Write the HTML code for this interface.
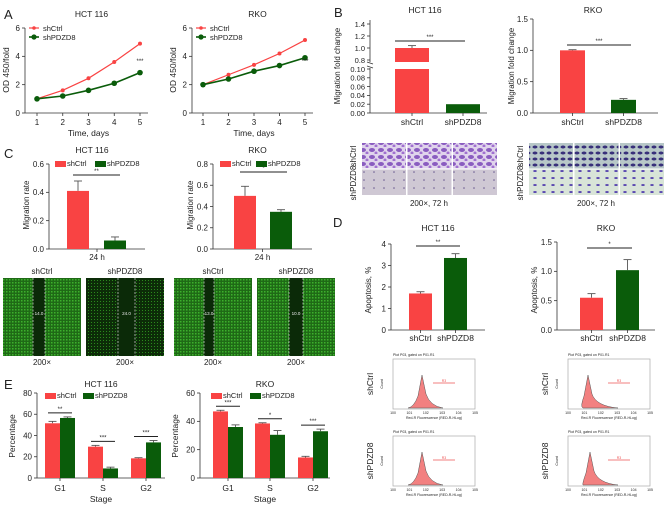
<!DOCTYPE html>
<html><head><meta charset="utf-8">
<style>
html,body{margin:0;padding:0;background:#fff;}
svg{display:block;font-family:"Liberation Sans",Arial,sans-serif;}
</style></head>
<body>
<svg id="fig" width="670" height="506" viewBox="0 0 670 506">
<defs>
<pattern id="purpleA" width="9" height="7" patternUnits="userSpaceOnUse"><rect width="9" height="7" fill="#e0d4ec"/><ellipse cx="3" cy="3" rx="3" ry="2" fill="#8a5cc0"/><circle cx="7" cy="6" r="1.5" fill="#a070d0"/></pattern>
<pattern id="purpleB" width="10" height="8" patternUnits="userSpaceOnUse"><rect width="10" height="8" fill="#cfc8d4"/><circle cx="4" cy="4" r="0.8" fill="#6a5a90"/></pattern>
<pattern id="blueA" width="7" height="6" patternUnits="userSpaceOnUse"><rect width="7" height="6" fill="#b8c8c8"/><ellipse cx="3" cy="3" rx="2.5" ry="1.5" fill="#38307a"/></pattern>
<pattern id="blueB" width="9" height="7" patternUnits="userSpaceOnUse"><rect width="9" height="7" fill="#d8e4d8"/><ellipse cx="4" cy="3" rx="1.8" ry="1" fill="#5a48b0"/></pattern>
<pattern id="greenA" width="3" height="3" patternUnits="userSpaceOnUse"><rect width="3" height="3" fill="#1f6a16"/><rect x="0" y="0" width="1.5" height="1.5" fill="#3cb02c"/></pattern>
<pattern id="greenB" width="3" height="3" patternUnits="userSpaceOnUse"><rect width="3" height="3" fill="#0c2c08"/><rect x="1" y="1" width="1" height="1" fill="#2a8a1c"/></pattern>
</defs>
</svg>
<script>
// ---------- DATA ----------
const days = [1,2,3,4,5];
const aHctCtrl = [1.0,1.6,2.45,3.6,4.9];
const aHctSh = [1.0,1.2,1.6,2.1,2.85];
const aRkoCtrl = [2.0,2.7,3.4,4.2,5.15];
const aRkoSh = [2.0,2.4,2.95,3.35,3.9];
const aTicks = [0,2,4,6];
const bGroups = ["shCtrl","shPDZD8"];
const bHctVals = [1.0,0.02];
const bHctErr = [0.04,0.0];
const bRkoVals = [1.0,0.21];
const bRkoErr = [0.01,0.02];
const bHctTopTicks = [0.8,1.0,1.2,1.4];
const bHctBotTicks = [0.00,0.02,0.04,0.06,0.08,0.10];
const bRkoTicks = [0.0,0.5,1.0,1.5];
const cHctVals = [0.41,0.06];
const cHctErr = [0.07,0.025];
const cRkoVals = [0.50,0.35];
const cRkoErr = [0.09,0.02];
const cHctTicks = [0.0,0.2,0.4,0.6];
const cRkoTicks = [0.0,0.2,0.4,0.6,0.8];
const dHctVals = [1.7,3.35];
const dHctErr = [0.08,0.2];
const dRkoVals = [0.55,1.02];
const dRkoErr = [0.07,0.18];
const dHctTicks = [0,1,2,3,4];
const dRkoTicks = [0.0,0.5,1.0,1.5];
const eStages = ["G1","S","G2"];
const eHctCtrl = [51.5,29.5,18.5];
const eHctSh = [56.5,9,33.5];
const eHctCtrlErr = [1.8,1.2,0.6];
const eHctShErr = [1.0,1.2,1.8];
const eRkoCtrl = [47,38.5,14.5];
const eRkoSh = [36,30.5,33];
const eRkoCtrlErr = [0.8,0.5,0.8];
const eRkoShErr = [1.5,3,1.5];
const eHctTicks = [0,20,40,60,80];
const eRkoTicks = [0,20,40,60];
const eHctSig = ["**","***","***"];
const eRkoSig = ["***","*","***"];

const RED="#f94343", GREEN="#0a5c0a";
const svg=document.getElementById('fig');
const NS="http://www.w3.org/2000/svg";
function el(tag,attrs,parent){const e=document.createElementNS(NS,tag);for(const k in attrs)e.setAttribute(k,attrs[k]);(parent||svg).appendChild(e);return e;}
function txt(x,y,s,size,anchor,parent,rot){const t=el('text',{x:x,y:y,'font-size':size,'text-anchor':anchor||'middle',fill:'#222'},parent);if(rot)t.setAttribute('transform','rotate(-90 '+x+' '+y+')');t.textContent=s;return t;}
function grp(name){const g=el('g',{});return g;}
function line(x1,y1,x2,y2,g,w,c){return el('line',{x1:x1,y1:y1,x2:x2,y2:y2,stroke:c||'#333','stroke-width':w||0.8},g);}

function yAxis(g,x,yTop,yBot,ticks,scale,fmt){
  line(x,yTop,x,yBot,g);
  ticks.forEach(v=>{const y=scale(v);line(x-3,y,x,y,g);txt(x-5,y+2.8,fmt(v),8,'end',g);});
}
function bar(g,x,w,v,err,scale,col,name){
  const y0=scale(0),y=scale(v);
  if(err>0){line(x+w/2,y,x+w/2,scale(v+err),g,0.9,'#555');line(x+w/2-4,scale(v+err),x+w/2+4,scale(v+err),g,0.9,'#555');}
  const r=el('rect',{x:x,y:y,width:w,height:y0-y,fill:col},g);
  
  
  return r;
}
function sig(g,x1,x2,y,s){line(x1,y,x2,y,g,1,'#222');txt((x1+x2)/2,y-2,s,6,'middle',g);}
function legendBox(g,x,y,col,label){el('rect',{x:x,y:y-5,width:11,height:6,fill:col},g);txt(x+12,y,label,7.5,'start',g);}

// panel letters
[["A",4,19],["B",334,17],["C",4,158],["D",333,227],["E",4,389]].forEach(([l,x,y])=>{const t=txt(x,y,l,13,'start');});

// ---------- Panel A ----------
function lineChart(name,title,ox,x1,x5,ctrl,sh,sigTxt){
  const g=grp(name);
  const yB=113,yT=28;
  const ys=v=>yB-(v/6)*(yB-yT);
  const xs=d=>x1+(d-1)*(x5-x1)/4;
  txt((ox+x5+8)/2+5,17,title,8.5,'middle',g);
  yAxis(g,ox,yT,yB,aTicks,ys,v=>String(v));
  line(ox,yB,x5+8,yB,g);
  days.forEach(d=>{line(xs(d),yB,xs(d),yB+3,g);txt(xs(d),yB+12,String(d),8,'middle',g);});
  txt((x1+x5)/2,yB+23,'Time, days',8.5,'middle',g);
  txt(ox-16,70,'OD 450/fold',8.5,'middle',g,true);
  [[ctrl,RED,1.2,2,'ctrl'],[sh,GREEN,1.6,2.8,'sh']].forEach(([arr,c,w,r,n])=>{
    const p=el('polyline',{points:arr.map((v,i)=>xs(days[i])+','+ys(v)).join(' '),fill:'none',stroke:c,'stroke-width':w},g);
    
    
    arr.forEach((v,i)=>{const cc=el('circle',{cx:xs(days[i]),cy:ys(v),r:r,fill:c},g);
      
      });
  });
  txt(xs(5),63,sigTxt,6,'middle',g);
  el('line',{x1:ox+4,y1:28,x2:ox+14,y2:28,stroke:RED,'stroke-width':1.2},g);el('circle',{cx:ox+9,cy:28,r:1.8,fill:RED},g);txt(ox+18,31,'shCtrl',7.5,'start',g);
  el('line',{x1:ox+4,y1:37,x2:ox+14,y2:37,stroke:GREEN,'stroke-width':1.6},g);el('circle',{cx:ox+9,cy:37,r:2.6,fill:GREEN},g);txt(ox+18,40,'shPDZD8',7.5,'start',g);
}
lineChart('chart-a-hct116','HCT 116',25,37,140,aHctCtrl,aHctSh,'***');
lineChart('chart-a-rko','RKO',192,203,305,aRkoCtrl,aRkoSh,'***');

// ---------- Panel B ----------
(function(){
  const g=grp('chart-b-hct116');
  const ax=370;
  const top=v=>48-(v-1.0)*(48-24)/0.4;
  const bot=v=>113-v*(113-69)/0.10;
  txt(425,13,'HCT 116',8.5,'middle',g);
  line(ax,20,ax,62,g);line(ax,68,ax,113,g);
  line(ax-3,62,ax+3,64,g);line(ax-3,66,ax+3,68,g);
  bHctTopTicks.forEach(v=>{line(ax-3,top(v),ax,top(v),g);txt(ax-5,top(v)+2.8,v.toFixed(1),7.5,'end',g);});
  bHctBotTicks.forEach(v=>{line(ax-3,bot(v),ax,bot(v),g);txt(ax-5,bot(v)+2.8,v.toFixed(2),7.5,'end',g);});
  line(ax,113,487,113,g);
  const xs=[395,446];
  const v=bHctVals[0];
  const r1=el('rect',{x:xs[0],y:top(v),width:34,height:62-top(v),fill:RED},g);
  
  el('rect',{x:xs[0],y:69,width:34,height:44,fill:RED},g);
  line(xs[0]+17,top(v),xs[0]+17,top(v+bHctErr[0]),g,0.9,'#555');line(xs[0]+13,top(v+bHctErr[0]),xs[0]+21,top(v+bHctErr[0]),g,0.9,'#555');
  bar(g,xs[1],34,bHctVals[1],bHctErr[1],bot,GREEN,'bar-shpdzd8');
  bGroups.forEach((n,i)=>{line(xs[i]+17,113,xs[i]+17,116,g);txt(xs[i]+17,125,n,8.5,'middle',g);});
  sig(g,395,465,41,'***');
  txt(340,66,'Migration fold change',8,'middle',g,true);
})();
(function(){
  const g=grp('chart-b-rko');
  const ax=533;
  const s=v=>113-v*(113-19)/1.5;
  txt(593,13,'RKO',8.5,'middle',g);
  yAxis(g,ax,19,113,bRkoTicks,s,v=>v.toFixed(1));
  line(ax,113,658,113,g);
  const xs=[560,611];
  bGroups.forEach((n,i)=>{bar(g,xs[i],25,bRkoVals[i],bRkoErr[i],s,i?GREEN:RED,'bar-'+n.toLowerCase());line(xs[i]+12.5,113,xs[i]+12.5,116,g);txt(xs[i]+12.5,125,n,8.5,'middle',g);});
  sig(g,567,631,45,'***');
  txt(514,66,'Migration fold change',8,'middle',g,true);
})();
// B images
(function(){
  const g=grp('transwell-images');
  function grid(x0,fills){for(let r=0;r<2;r++)for(let c=0;c<3;c++){el('rect',{x:x0+c*45.5,y:143+r*26.5,width:44,height:25.5,fill:fills[r]},g);}}
  grid(362,['url(#purpleA)','url(#purpleB)']);
  grid(529,['url(#blueA)','url(#blueB)']);
  txt(429,206,'200×, 72 h',8,'middle',g);txt(596,206,'200×, 72 h',8,'middle',g);
  txt(356,156,'shCtrl',8,'middle',g,true);txt(356,183,'shPDZD8',8,'middle',g,true);
  txt(523,156,'shCtrl',8,'middle',g,true);txt(523,183,'shPDZD8',8,'middle',g,true);
})();

// ---------- Panel C ----------
function cChart(name,title,ax,axEnd,yTop,ticks,maxV,vals,errs,xs,sigY,sigTxt,legX){
  const g=grp(name);
  const s=v=>249-v*(249-yTop)/maxV;
  txt((ax+axEnd)/2-5,153,title,8.5,'middle',g);
  yAxis(g,ax,yTop,249,ticks,s,v=>v.toFixed(1));
  line(ax,249,axEnd,249,g);
  vals.forEach((v,i)=>bar(g,xs[i],22,v,errs[i],s,i?GREEN:RED,'bar-'+bGroups[i].toLowerCase()));
  line((ax+axEnd)/2,249,(ax+axEnd)/2,252,g);
  txt((ax+axEnd)/2,260,'24 h',8,'middle',g);
  sig(g,sigY[0],sigY[1],sigY[2],sigTxt);
  legendBox(g,legX[0],166,RED,'shCtrl');legendBox(g,legX[1],166,GREEN,'shPDZD8');
  txt(ax-20,205,'Migration rate',8,'middle',g,true);
}
cChart('chart-c-hct116','HCT 116',49,145,164,cHctTicks,0.6,cHctVals,cHctErr,[67,104],[73,120,175],'**',[55,95]);
cChart('chart-c-rko','RKO',213,312,164,cRkoTicks,0.8,cRkoVals,cRkoErr,[234,270],[240,287,172],'*',[220,256]);
// wound images
(function(){
  const g=grp('wound-healing-images');
  const xs=[3,86,174,257], labels=['shCtrl','shPDZD8','shCtrl','shPDZD8'], fills=['url(#greenA)','url(#greenB)','url(#greenA)','url(#greenA)'], vals=['14.0','24.0','13.0','10.0'];
  const gaps=[[33,45],[118,135],[204,214],[289,303]];
  xs.forEach((x,i)=>{
    el('rect',{x:x,y:278,width:78,height:78,fill:fills[i]},g);
    el('rect',{x:gaps[i][0],y:278,width:gaps[i][1]-gaps[i][0],height:78,fill:'#0b2a08'},g);
    el('line',{x1:gaps[i][0],y1:278,x2:gaps[i][0],y2:356,stroke:'#ddd','stroke-width':0.7,'stroke-dasharray':'2,1.5'},g);
    el('line',{x1:gaps[i][1],y1:278,x2:gaps[i][1],y2:356,stroke:'#ddd','stroke-width':0.7,'stroke-dasharray':'2,1.5'},g);
    const t=txt((gaps[i][0]+gaps[i][1])/2,315,vals[i],4.5,'middle',g);t.setAttribute('fill','#eee');
    txt(x+39,274,labels[i],8,'middle',g);txt(x+39,365,'200×',8,'middle',g);
  });
})();

// ---------- Panel D ----------
function dChart(name,title,ax,axEnd,yTop,ticks,maxV,vals,errs,xs,sigA,sigTxt,fmt){
  const g=grp(name);
  const s=v=>330-v*(330-yTop)/maxV;
  txt((ax+axEnd)/2,231,title,8.5,'middle',g);
  yAxis(g,ax,yTop,330,ticks,s,fmt);
  line(ax,330,axEnd,330,g);
  vals.forEach((v,i)=>{bar(g,xs[i],23,v,errs[i],s,i?GREEN:RED,'bar-'+bGroups[i].toLowerCase());line(xs[i]+11.5,330,xs[i]+11.5,333,g);txt(xs[i]+11.5,341,bGroups[i],8.5,'middle',g);});
  sig(g,sigA[0],sigA[1],sigA[2],sigTxt);
  txt(ax-20,290,'Apoptosis, %',8,'middle',g,true);
}
dChart('chart-d-hct116','HCT 116',391,485,244,dHctTicks,4,dHctVals,dHctErr,[409,444],[416,460,246],'**',v=>String(v));
dChart('chart-d-rko','RKO',557,655,242,dRkoTicks,1.5,dRkoVals,dRkoErr,[580,616],[587,632,248],'*',v=>v.toFixed(1));
// flow histograms
(function(){
  const g=grp('flow-histograms');
  const boxes=[[393,359,'shCtrl',422],[393,436,'shPDZD8',422],[568,359,'shCtrl',588],[568,436,'shPDZD8',590]];
  boxes.forEach(([x,y,lab,px])=>{
    el('rect',{x:x,y:y,width:82,height:50,fill:'#fff',stroke:'#aaa','stroke-width':0.7},g);
    const b=y+49;
    el('path',{d:`M${x+15},${b} Q${px-8},${b-1} ${px-4},${b-12} L${px},${y+16} L${px+4},${b-14} Q${px+8},${b-2} ${x+50},${b} Z`,fill:'#f28080',stroke:'#555','stroke-width':0.5},g);
    line(x+40,y+24,x+62,y+24,g,0.7,'#e55');
    const r=txt(x+51,y+23,'R3',3.5,'middle',g);r.setAttribute('fill','#e55');
    txt(x,y-3,'Plot P03, gated on P01.R1',3.5,'start',g);
    txt(x+41,y+60,'Red-R Fluorescence (RED-R-HLog)',3.5,'middle',g);
    for(let i=0;i<6;i++)txt(x+i*16.4,y+55,'10'+i,3.5,'middle',g);
    txt(x-20,y+25,lab,8.5,'middle',g,true);
    txt(x-10,y+25,'Count',3.5,'middle',g,true);
  });
})();

// ---------- Panel E ----------
function eChart(name,title,ax,axEnd,ticks,maxV,ctrl,sh,ce,se,sigs,centers,legX){
  const g=grp(name);
  const s=v=>478-v*(478-393)/maxV;
  txt((ax+axEnd)/2,387,title,8.5,'middle',g);
  yAxis(g,ax,393,478,ticks,s,v=>String(v));
  line(ax,478,axEnd,478,g);
  eStages.forEach((st,i)=>{
    const c=centers[i];
    bar(g,c-15,15,ctrl[i],ce[i],s,RED,'bar-shctrl-'+st.toLowerCase());
    bar(g,c,15,sh[i],se[i],s,GREEN,'bar-shpdzd8-'+st.toLowerCase());
    line(c,478,c,481,g);txt(c,491,st,8.5,'middle',g);
    const top=Math.max(ctrl[i]+ce[i],sh[i]+se[i]);
    sig(g,c-12,c+12,s(top)-4,sigs[i]);
  });
  txt((ax+axEnd)/2,502,'Stage',8.5,'middle',g);
  txt(ax-22,436,'Percentage',8.5,'middle',g,true);
  legendBox(g,legX[0],398,RED,'shCtrl');legendBox(g,legX[1],398,GREEN,'shPDZD8');
}
eChart('chart-e-hct116','HCT 116',37,165,eHctTicks,80,eHctCtrl,eHctSh,eHctCtrlErr,eHctShErr,eHctSig,[60,103,146],[45,83]);
eChart('chart-e-rko','RKO',200,330,eRkoTicks,60,eRkoCtrl,eRkoSh,eRkoCtrlErr,eRkoShErr,eRkoSig,[228,270,313],[211,250]);
</script>
</body></html>
